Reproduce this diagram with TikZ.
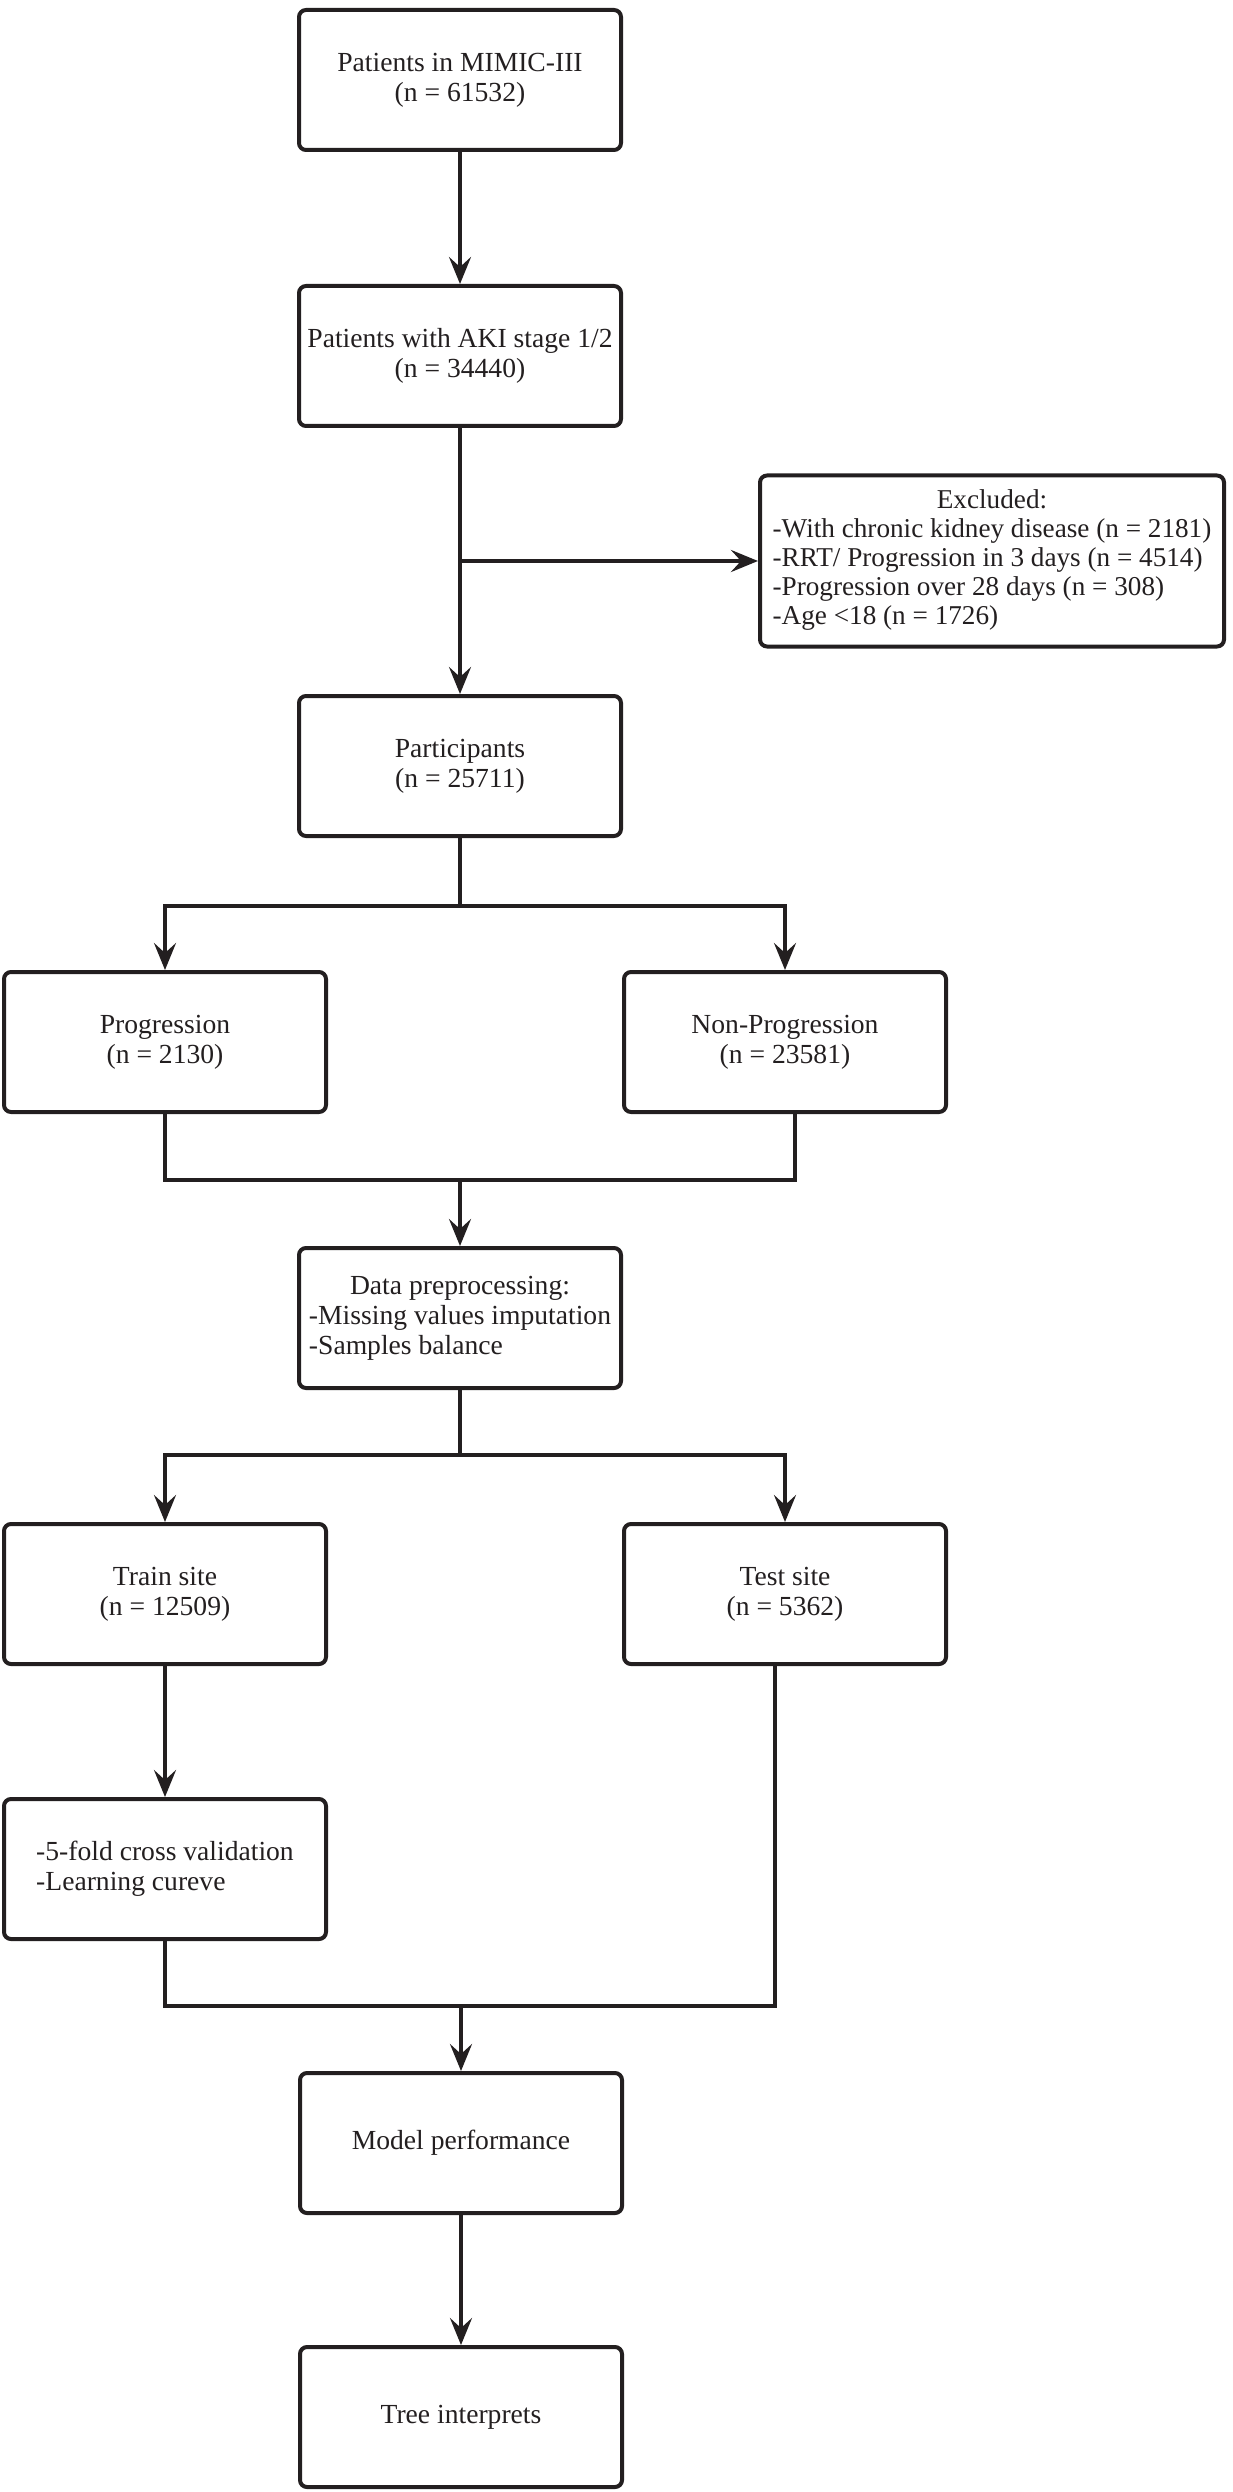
\documentclass[tikz,border=0pt]{standalone}
\usepackage{fontspec}
\setmainfont{Liberation Serif}
\usetikzlibrary{arrows.meta}
\definecolor{inkgray}{RGB}{35,31,32}
\tikzset{
  flowbox/.style={draw=inkgray, text=inkgray, line width=2pt, rounded corners=3.5pt,
    minimum width=161pt, minimum height=70pt, align=center, inner sep=2pt,
    font=\fontsize{13.8}{15}\selectfont},
  conn/.style={draw=inkgray, line width=1.8pt},
  connarrow/.style={conn, -{Stealth[length=13.5pt,width=11pt,inset=5pt]}},
}
\begin{document}
\begin{tikzpicture}[x=0.5pt,y=0.5pt,yscale=-1]
	\useasboundingbox (0,0) rectangle (1232,2492);
	\node[flowbox] (mimic) at (460,80) {Patients in MIMIC-III\\(n = 61532)};
	\node[flowbox] (aki) at (460,356) {Patients with AKI stage 1/2\\(n = 34440)};
	\node[flowbox, minimum width=232pt, minimum height=85.5pt, font=\fontsize{13.6}{14.5}\selectfont] (excl) at (992,561) {\begin{tabular}{@{}l@{}}\multicolumn{1}{@{}c@{}}{Excluded:}\\-With chronic kidney disease (n = 2181)\\-RRT/ Progression in 3 days (n = 4514)\\-Progression over 28 days (n = 308)\\-Age <18 (n = 1726)\end{tabular}};
	\node[flowbox] (part) at (460,766) {Participants\\(n = 25711)};
	\node[flowbox] (prog) at (165,1042) {Progression\\(n = 2130)};
	\node[flowbox] (nonprog) at (785,1042) {Non-Progression\\(n = 23581)};
	\node[flowbox] (prep) at (460,1318) {\begin{tabular}{@{}l@{}}\multicolumn{1}{@{}c@{}}{Data preprocessing:}\\-Missing values imputation\\-Samples balance\end{tabular}};
	\node[flowbox] (train) at (165,1594) {Train site\\(n = 12509)};
	\node[flowbox] (test) at (785,1594) {Test site\\(n = 5362)};
	\node[flowbox] (cv) at (165,1869) {\begin{tabular}{@{}l@{}}-5-fold cross validation\\-Learning cureve\end{tabular}};
	\node[flowbox] (model) at (461,2143) {Model performance};
	\node[flowbox] (tree) at (461,2417) {Tree interprets};

	\coordinate (split1) at (460,906);
	\coordinate (merge1) at (460,1180);
	\coordinate (split2) at (460,1455);
	\coordinate (merge2) at (461,2006);

	\draw[connarrow] (mimic) -- (aki);
	\draw[connarrow] (aki) -- (part);
	\draw[connarrow, line width=2.4pt] (aki.south |- excl.west) -- (excl);
	\draw[conn] (part) -- (split1);
	\draw[connarrow] (split1) -| (prog);
	\draw[connarrow] (split1) -| (nonprog);
	\draw[conn] (prog) |- (merge1);
	\draw[conn] ([xshift=5pt]nonprog.south) |- (merge1);
	\draw[connarrow] (merge1) -- (prep);
	\draw[conn] (prep) -- (split2);
	\draw[connarrow] (split2) -| (train);
	\draw[connarrow] (split2) -| (test);
	\draw[connarrow] (train) -- (cv);
	\draw[conn] (cv) |- (merge2);
	\draw[conn] ([xshift=-5pt]test.south) |- (merge2);
	\draw[connarrow] (merge2) -- (model);
	\draw[connarrow] (model) -- (tree);
\end{tikzpicture}
\end{document}
